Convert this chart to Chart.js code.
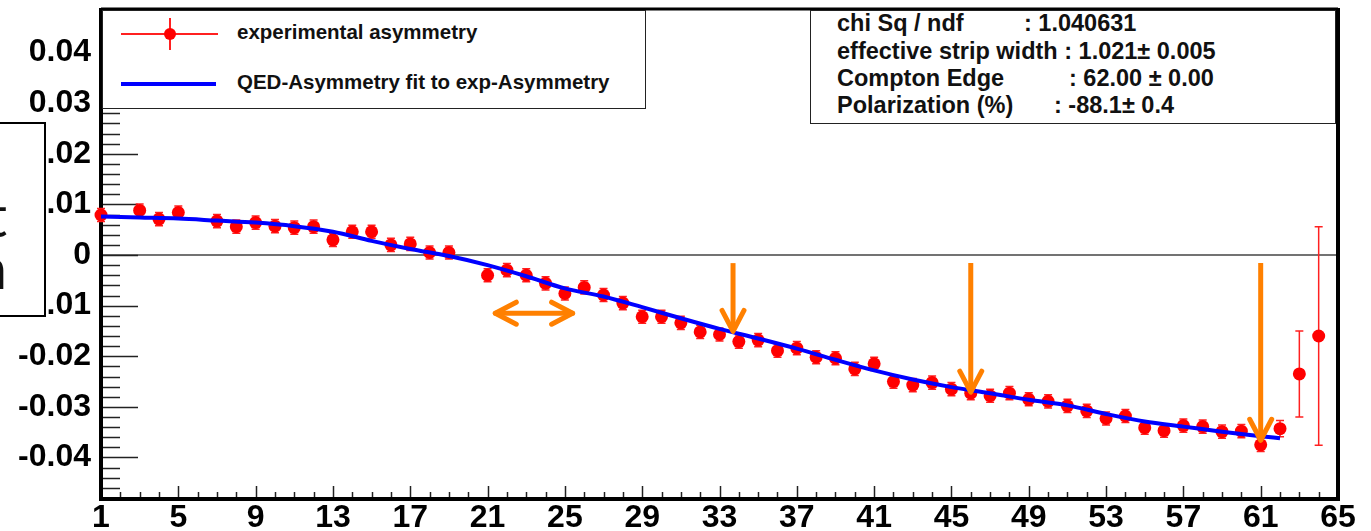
<!DOCTYPE html>
<html>
<head>
<meta charset="utf-8">
<script src="https://cdn.jsdelivr.net/npm/chart.js@4.4.1/dist/chart.umd.min.js"></script>
<style>
    html, body { margin: 0; padding: 0; background: #fff; overflow: hidden; }
    #wrap { position: relative; width: 1371px; height: 531px; overflow: hidden; }
    #wrap canvas { position: absolute; left: 0; top: 0; }
    .box { position: absolute; background: #fff; border: 1.5px solid #222; box-sizing: border-box; }
    .txt { position: absolute; font-family: "Liberation Sans", Arial, sans-serif; font-weight: bold; white-space: pre; color: #111; line-height: 1; }
    .sym { position: absolute; }
</style>
</head>
<body>
<div id="wrap">
    <canvas id="chart-asym" width="1371" height="531"></canvas>

    <!-- legend -->
    <div class="box" style="left:102px; top:10px; width:544px; height:99px;">
        <div class="sym" style="left:18px; top:22px; width:97px; height:1.5px; background:#ff2020;"></div>
        <div class="sym" style="left:66px; top:7px; width:1.5px; height:32px; background:#ff2020;"></div>
        <div class="sym" style="left:61px; top:17px; width:12px; height:12px; border-radius:50%; background:#ff0000;"></div>
        <div class="sym" style="left:18px; top:71px; width:95px; height:4px; background:#0000ff;"></div>
        <div class="txt" style="left:134px; top:11px; font-size:20.5px;">experimental asymmetry</div>
        <div class="txt" style="left:134px; top:61px; font-size:20.5px;">QED-Asymmetry fit to exp-Asymmetry</div>
    </div>

    <!-- fit statistics -->
    <div class="box" style="left:810px; top:10px; width:526px; height:114px;">
        <div class="txt" style="left:26px; top:1px; font-size:23.5px;">chi Sq / ndf</div>
        <div class="txt" style="left:213px; top:1px; font-size:23.5px;">: 1.040631</div>
        <div class="txt" style="left:26px; top:29px; font-size:23.5px;">effective strip width : 1.021± 0.005</div>
        <div class="txt" style="left:26px; top:56px; font-size:23.5px;">Compton Edge</div>
        <div class="txt" style="left:258px; top:56px; font-size:23.5px;">: 62.00 ± 0.00</div>
        <div class="txt" style="left:26px; top:83px; font-size:23.5px;">Polarization (%)</div>
        <div class="txt" style="left:243px; top:83px; font-size:23.5px;">: -88.1± 0.4</div>
    </div>

    <!-- slide text box overlapping the left edge -->
    <div class="box" style="left:-4px; top:122px; width:50px; height:195px; border:2px solid #000; overflow:hidden;">
        <div style="position:absolute; right:37px; top:62px; font-family:Lato, 'Open Sans', sans-serif; font-size:58px; line-height:1; color:#111;">t</div>
        <div style="position:absolute; right:37px; top:114px; font-family:Lato, 'Open Sans', sans-serif; font-size:58px; line-height:1; color:#111;">n</div>
    </div>
</div>

<script>
// strip numbers that have a measured asymmetry
const strips = [1, 3, 4, 5, 7, 8, 9, 10, 11, 12, 13, 14, 15, 16, 17, 18, 19,
    21, 22, 23, 24, 25, 26, 27, 28, 29, 30, 31, 32, 33, 34, 35, 36, 37, 38, 39, 40,
    41, 42, 43, 44, 45, 46, 47, 48, 49, 50, 51, 52, 53, 54, 55, 56, 57, 58, 59, 60,
    61, 62, 63, 64];

const expAsym = [0.0079, 0.0088, 0.0071, 0.0084, 0.0067, 0.0056, 0.0064, 0.0057, 0.0054, 0.0056,
    0.0030, 0.0046, 0.0046, 0.0020, 0.0022, 0.0005, 0.0005,
    -0.0040, -0.0030, -0.0040, -0.0056, -0.0076, -0.0064, -0.0079, -0.0095, -0.0122, -0.0122,
    -0.0134, -0.0152, -0.0157, -0.0171, -0.0168, -0.0189, -0.0184, -0.0202, -0.0204, -0.0225,
    -0.0215, -0.0250, -0.0257, -0.0252, -0.0265, -0.0273, -0.0278, -0.0273, -0.0285, -0.0289,
    -0.0298, -0.0308, -0.0323, -0.0318, -0.0341, -0.0347, -0.0337, -0.0339, -0.0349, -0.0348,
    -0.0375, -0.0343, -0.0235, -0.0160];

const expErr = [0.0013, 0.0013, 0.0013, 0.0013, 0.0013, 0.0013, 0.0013, 0.0013, 0.0013, 0.0013,
    0.0013, 0.0013, 0.0013, 0.0013, 0.0013, 0.0013, 0.0013,
    0.0013, 0.0013, 0.0013, 0.0013, 0.0013, 0.0013, 0.0013, 0.0013, 0.0013, 0.0013,
    0.0013, 0.0013, 0.0013, 0.0013, 0.0013, 0.0013, 0.0013, 0.0013, 0.0013, 0.0013,
    0.0013, 0.0013, 0.0013, 0.0013, 0.0013, 0.0013, 0.0013, 0.0013, 0.0013, 0.0013,
    0.0013, 0.0013, 0.0013, 0.0013, 0.0013, 0.0013, 0.0013, 0.0013, 0.0013, 0.0013,
    0.0013, 0.0016, 0.0085, 0.0216];

// QED asymmetry fit
const fitStrips = [1, 3, 5, 7, 9, 11, 13, 15, 17, 19, 21, 23, 25, 27, 29, 31, 33, 35, 37, 39,
    41, 43, 45, 47, 49, 51, 53, 55, 57, 59, 61, 62];
const fitAsym = [0.0076, 0.0074, 0.0072, 0.0068, 0.0064, 0.0057, 0.0046, 0.0028, 0.0012, -0.0002,
    -0.0020, -0.0042, -0.0066, -0.0082, -0.0103, -0.0125, -0.0146, -0.0165, -0.0185, -0.0207,
    -0.0228, -0.0246, -0.0261, -0.0273, -0.0286, -0.0297, -0.0314, -0.0329, -0.0339, -0.0349,
    -0.0358, -0.0362];

// axis ticks
const xTickValues = [1, 5, 9, 13, 17, 21, 25, 29, 33, 37, 41, 45, 49, 53, 57, 61, 65];
const yTickValues = [-0.04, -0.03, -0.02, -0.01, 0, 0.01, 0.02, 0.03, 0.04];
const xMin = 1, xMax = 65;
const yMin = -0.0482, yMax = 0.0486;

// orange annotation arrows (strip, asymmetry)
const downArrowX = [33.7, 46, 61];
const downArrowTop = -0.0016;
const downArrowTip = [-0.0151, -0.0271, -0.0366];
const sideArrow = { from: 21.4, to: 25.4, y: -0.0115 };

const tickFont = { family: "Liberation Sans", weight: "bold", size: 32 };

// ROOT style frame, inner ticks, zero line and error bars
const framePlugin = {
    id: "rootFrame",
    beforeDatasetsDraw(chart) {
        const { ctx, chartArea: a, scales: { x, y } } = chart;
        ctx.save();

        // zero line
        ctx.strokeStyle = "#444";
        ctx.lineWidth = 1.5;
        ctx.beginPath();
        ctx.moveTo(a.left, y.getPixelForValue(0));
        ctx.lineTo(a.right, y.getPixelForValue(0));
        ctx.stroke();

        // y ticks: minor every 0.002, major every 0.01
        ctx.strokeStyle = "#222";
        ctx.lineWidth = 1.5;
        for (let i = -24; i <= 24; i++) {
            const py = Math.round(y.getPixelForValue(i * 0.002)) + 0.5;
            const len = i % 5 === 0 ? 37 : 19;
            ctx.beginPath();
            ctx.moveTo(a.left, py);
            ctx.lineTo(a.left + len, py);
            ctx.stroke();
        }

        // x ticks: minor every strip, major every 4
        for (let s = xMin; s <= xMax; s++) {
            const px = Math.round(x.getPixelForValue(s)) + 0.5;
            const len = (s - 1) % 4 === 0 ? 13 : 7;
            ctx.beginPath();
            ctx.moveTo(px, a.bottom);
            ctx.lineTo(px, a.bottom - len);
            ctx.stroke();
        }

        // frame
        ctx.strokeStyle = "#000";
        ctx.lineWidth = 3;
        ctx.beginPath();
        ctx.moveTo(a.left, a.top);
        ctx.lineTo(a.right, a.top);
        ctx.stroke();
        ctx.lineWidth = 4;
        ctx.beginPath();
        ctx.moveTo(a.left, a.top - 1);
        ctx.lineTo(a.left, a.bottom);
        ctx.lineTo(a.right, a.bottom);
        ctx.lineTo(a.right, a.top - 1);
        ctx.stroke();

        // error bars
        ctx.strokeStyle = "#ff2020";
        ctx.lineWidth = 1.5;
        strips.forEach((s, i) => {
            const px = x.getPixelForValue(s);
            const top = y.getPixelForValue(expAsym[i] + expErr[i]);
            const bot = y.getPixelForValue(expAsym[i] - expErr[i]);
            ctx.beginPath();
            ctx.moveTo(px, top);
            ctx.lineTo(px, bot);
            ctx.moveTo(px - 4, top);
            ctx.lineTo(px + 4, top);
            ctx.moveTo(px - 4, bot);
            ctx.lineTo(px + 4, bot);
            ctx.stroke();
        });
        ctx.restore();
    }
};

const arrowPlugin = {
    id: "orangeArrows",
    afterDatasetsDraw(chart) {
        const { ctx, scales: { x, y } } = chart;
        ctx.save();
        ctx.strokeStyle = "#ff8000";
        ctx.lineWidth = 5;
        ctx.lineCap = "round";
        ctx.lineJoin = "round";

        downArrowX.forEach((s, i) => {
            const px = x.getPixelForValue(s);
            const y0 = y.getPixelForValue(downArrowTop);
            const y1 = y.getPixelForValue(downArrowTip[i]);
            ctx.lineCap = "butt";
            ctx.beginPath();
            ctx.moveTo(px, y0);
            ctx.lineTo(px, y1);
            ctx.stroke();
            ctx.lineCap = "round";
            ctx.beginPath();
            ctx.moveTo(px - 11, y1 - 21);
            ctx.lineTo(px, y1);
            ctx.lineTo(px + 11, y1 - 21);
            ctx.stroke();
        });

        const xa = x.getPixelForValue(sideArrow.from);
        const xb = x.getPixelForValue(sideArrow.to);
        const py = y.getPixelForValue(sideArrow.y);
        ctx.beginPath();
        ctx.moveTo(xa, py);
        ctx.lineTo(xb, py);
        ctx.stroke();
        ctx.beginPath();
        ctx.moveTo(xa + 21, py - 11);
        ctx.lineTo(xa, py);
        ctx.lineTo(xa + 21, py + 11);
        ctx.moveTo(xb - 21, py - 11);
        ctx.lineTo(xb, py);
        ctx.lineTo(xb - 21, py + 11);
        ctx.stroke();
        ctx.restore();
    }
};

const ctx = document.getElementById("chart-asym").getContext("2d");

new Chart(ctx, {
    type: "scatter",
    data: {
        datasets: [
            {
                label: "QED-Asymmetry fit to exp-Asymmetry",
                type: "line",
                data: fitStrips.map((s, i) => ({ x: s, y: fitAsym[i] })),
                borderColor: "#0000ff",
                borderWidth: 4,
                pointRadius: 0,
                fill: false,
                cubicInterpolationMode: "monotone",
                clip: false,
                order: 0
            },
            {
                label: "experimental asymmetry",
                data: strips.map((s, i) => ({ x: s, y: expAsym[i] })),
                backgroundColor: "#ff0000",
                borderWidth: 0,
                pointRadius: 6.5,
                clip: false,
                order: 1
            }
        ]
    },
    options: {
        responsive: false,
        animation: false,
        events: [],
        layout: { padding: { left: 0, top: 9, right: 33, bottom: 0 } },
        plugins: {
            legend: { display: false },
            tooltip: { enabled: false }
        },
        scales: {
            x: {
                type: "linear",
                min: xMin,
                max: xMax,
                afterBuildTicks: (s) => { s.ticks = xTickValues.map(v => ({ value: v })); },
                afterFit: (s) => { s.height = 32; s.paddingLeft = 0; s.paddingRight = 0; },
                grid: { display: false, drawTicks: false },
                border: { display: false },
                ticks: {
                    color: "#000",
                    font: tickFont,
                    padding: 0,
                    maxRotation: 0,
                    autoSkip: false,
                    callback: (v) => String(v)
                }
            },
            y: {
                type: "linear",
                min: yMin,
                max: yMax,
                afterBuildTicks: (s) => { s.ticks = yTickValues.map(v => ({ value: v })); },
                afterFit: (s) => { s.width = 101; s.paddingTop = 0; s.paddingBottom = 0; },
                grid: { display: false, drawTicks: false },
                border: { display: false },
                ticks: {
                    color: "#000",
                    font: tickFont,
                    padding: 10,
                    autoSkip: false,
                    callback: (v) => (v === 0 ? "0" : v.toFixed(2))
                }
            }
        }
    },
    plugins: [framePlugin, arrowPlugin]
});
</script>
</body>
</html>
